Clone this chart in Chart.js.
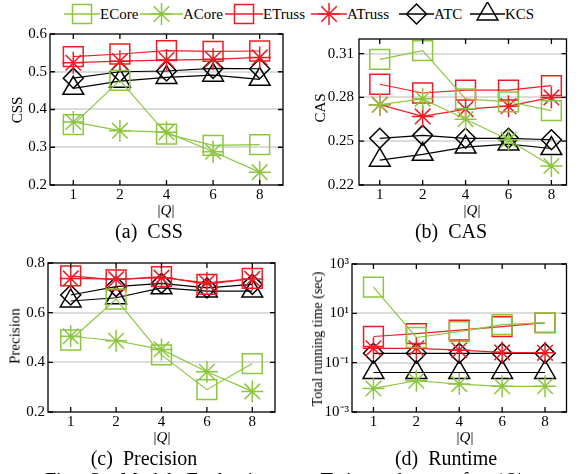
<!DOCTYPE html>
<html lang="en">
<head>
<meta charset="UTF-8">
<title>Model Evaluation</title>
<script src="https://cdn.jsdelivr.net/npm/chart.js@4.4.1/dist/chart.umd.min.js"></script>
<style>
  body { margin: 0; width: 582px; height: 474px; overflow: hidden; background: #fff; position: relative;
         font-family: "Liberation Serif", "Times New Roman", serif; color: #000; }
  canvas.panel { position: absolute; left: 0; top: 0; }
  .t { position: absolute; white-space: pre; line-height: 1; transform: translate(-50%, -50%); }
  .rot { transform: translate(-50%, -50%) rotate(-90deg); }
  .leg { position: absolute; top: 2px; height: 24px; }
  .legtxt { position: absolute; top: 14px; font-size: 15px; line-height: 1; transform: translateY(-50%); white-space: pre; }
</style>
</head>
<body>
<!-- legend -->
<div id="legend"></div>

<canvas id="cssChart" class="panel" width="582" height="474"></canvas>
<canvas id="casChart" class="panel" width="582" height="474"></canvas>
<canvas id="precChart" class="panel" width="582" height="474"></canvas>
<canvas id="rtChart" class="panel" width="582" height="474"></canvas>

<!-- axis titles -->
<div class="t rot" style="left:17px;top:110px;font-size:15px;">CSS</div>
<div class="t rot" style="left:320px;top:108px;font-size:15px;">CAS</div>
<div class="t rot" style="left:15px;top:336px;font-size:15px;">Precision</div>
<div class="t rot" style="left:318px;top:339px;font-size:14px;">Total running time (sec)</div>

<div class="t" style="left:166px;top:210px;font-size:15px;">|<i>Q</i>|</div>
<div class="t" style="left:472px;top:210px;font-size:15px;">|<i>Q</i>|</div>
<div class="t" style="left:162px;top:437px;font-size:15px;">|<i>Q</i>|</div>
<div class="t" style="left:465px;top:437px;font-size:15px;">|<i>Q</i>|</div>

<!-- sub captions -->
<div class="t" style="left:149px;top:231px;font-size:20px;">(a)  CSS</div>
<div class="t" style="left:451px;top:231px;font-size:20px;">(b)  CAS</div>
<div class="t" style="left:144px;top:458px;font-size:20px;">(c)  Precision</div>
<div class="t" style="left:446px;top:458px;font-size:20px;">(d)  Runtime</div>

<div style="position:absolute;left:45px;top:470px;font-size:20px;line-height:1;white-space:nowrap;word-spacing:9px;">Fig. 3: Model Evaluation on Twitter dataset for |<i>Q</i>|</div>

<script>
const qLabels = ['1', '2', '4', '6', '8'];

// (a) CSS
const cssECore  = [0.360, 0.477, 0.335, 0.305, 0.307];
const cssACore  = [0.367, 0.344, 0.340, 0.288, 0.234];
const cssETruss = [0.540, 0.547, 0.556, 0.554, 0.555];
const cssATruss = [0.524, 0.528, 0.531, 0.533, 0.538];
const cssATC    = [0.483, 0.500, 0.502, 0.509, 0.508];
const cssKCS    = [0.456, 0.475, 0.485, 0.491, 0.480];
const cssTicks  = [0.2, 0.3, 0.4, 0.5, 0.6];

// (b) CAS
const casECore  = [0.306, 0.312, 0.279, 0.277, 0.271];
const casACore  = [0.275, 0.279, 0.265, 0.251, 0.233];
const casETruss = [0.289, 0.283, 0.285, 0.285, 0.288];
const casATruss = [0.275, 0.267, 0.272, 0.274, 0.280];
const casATC    = [0.252, 0.254, 0.252, 0.252, 0.251];
const casKCS    = [0.237, 0.241, 0.246, 0.248, 0.245];
const casTicks  = [0.22, 0.25, 0.28, 0.31];

// (c) Precision
const precECore  = [0.490, 0.655, 0.430, 0.290, 0.395];
const precACore  = [0.505, 0.487, 0.452, 0.362, 0.283];
const precETruss = [0.748, 0.732, 0.745, 0.714, 0.738];
const precATruss = [0.738, 0.735, 0.741, 0.720, 0.736];
const precATC    = [0.671, 0.705, 0.718, 0.700, 0.714];
const precKCS    = [0.647, 0.660, 0.700, 0.687, 0.687];
const precTicks  = [0.2, 0.4, 0.6, 0.8];

// (d) Runtime (sec, log scale)
const rtECore  = [115, 1.05, 1.8, 3.5, 4.2];
const rtACore  = [0.009, 0.0185, 0.0135, 0.011, 0.011];
const rtETruss = [1.15, 1.5, 2.1, 2.9, 4.2];
const rtATruss = [0.38, 0.38, 0.32, 0.26, 0.25];
const rtATC    = [0.24, 0.24, 0.24, 0.24, 0.24];
const rtKCS    = [0.04, 0.04, 0.04, 0.04, 0.04];
const rtTicks  = [1e-3, 1e-1, 1e1, 1e3];
const rtTickText = ['10\u207B\u00B3', '10\u207B\u00B9', '10\u00B9', '10\u00B3'];

const GREEN = '#8cc63f';
const RED = '#ee1d25';
const BLACK = '#000';
const FONT = { family: 'Liberation Serif', size: 15 };

const methods = [
    { name: 'ECore',  color: GREEN, style: 'rect',     r: 14 },
    { name: 'ACore',  color: GREEN, style: 'star',     r: 11 },
    { name: 'ETruss', color: RED,   style: 'rect',     r: 14 },
    { name: 'ATruss', color: RED,   style: 'star',     r: 11 },
    { name: 'ATC',    color: BLACK, style: 'rectRot',  r: 10 },
    { name: 'KCS',    color: BLACK, style: 'triangle', r: 12 }
];

// box + inward ticks on all four sides
const framePlugin = {
    id: 'frame',
    afterDatasetsDraw(chart) {
        const { ctx, chartArea: a, scales: { x, y } } = chart;
        ctx.save();
        ctx.strokeStyle = '#000';
        ctx.lineWidth = 1.3;
        ctx.strokeRect(a.left, a.top, a.right - a.left, a.bottom - a.top);
        ctx.beginPath();
        x.ticks.forEach(t => {
            const px = x.getPixelForValue(t.value);
            ctx.moveTo(px, a.bottom); ctx.lineTo(px, a.bottom - 5);
            ctx.moveTo(px, a.top); ctx.lineTo(px, a.top + 5);
        });
        y.ticks.forEach(t => {
            const py = y.getPixelForValue(t.value);
            ctx.moveTo(a.left, py); ctx.lineTo(a.left + 5, py);
            ctx.moveTo(a.right, py); ctx.lineTo(a.right - 5, py);
        });
        ctx.stroke();
        ctx.restore();
    }
};

function makePanel(id, area, seriesList, yOpt, xRange) {
    const yW = area.yW, xH = 30;
    const datasets = seriesList.map((vals, i) => {
        const m = methods[i];
        return {
            label: m.name,
            data: vals.map((v, k) => ({ x: k, y: v })),
            borderColor: m.color,
            borderWidth: 1.2,
            pointStyle: m.style,
            pointRadius: m.r,
            pointBorderColor: m.color,
            pointBackgroundColor: 'rgba(0,0,0,0)',
            pointBorderWidth: 1.5,
            tension: 0,
            clip: false
        };
    });
    return new Chart(document.getElementById(id), {
        type: 'line',
        data: { datasets },
        plugins: [framePlugin],
        options: {
            responsive: false,
            animation: false,
            events: [],
            layout: {
                padding: {
                    left: area.left - yW,
                    right: 582 - area.right,
                    top: area.top,
                    bottom: 474 - area.bottom - xH
                }
            },
            plugins: { legend: { display: false }, tooltip: { enabled: false } },
            scales: {
                x: {
                    type: 'linear',
                    min: xRange[0],
                    max: xRange[1],
                    afterBuildTicks: s => { s.ticks = qLabels.map((_, k) => ({ value: k })); },
                    afterFit: s => { s.height = xH; },
                    ticks: { callback: v => qLabels[v], font: FONT, color: '#000', padding: 1, maxRotation: 0, autoSkip: false },
                    grid: { display: false, drawTicks: false },
                    border: { display: false }
                },
                y: {
                    type: yOpt.type,
                    min: yOpt.min,
                    max: yOpt.max,
                    afterBuildTicks: s => { s.ticks = yOpt.ticks.map(v => ({ value: v })); },
                    afterFit: s => { s.width = yW; },
                    ticks: { callback: yOpt.fmt, font: FONT, color: '#000', padding: yOpt.pad, autoSkip: false },
                    grid: {
                        drawTicks: false,
                        lineWidth: 2,
                        color: c => (c.tick && c.tick.value > yOpt.min && c.tick.value < yOpt.max) ? '#dcdcdc' : 'rgba(0,0,0,0)'
                    },
                    border: { display: false }
                }
            }
        }
    });
}

makePanel('cssChart', { left: 50, right: 283, top: 34, bottom: 185, yW: 45 },
    [cssECore, cssACore, cssETruss, cssATruss, cssATC, cssKCS],
    { type: 'linear', min: 0.2, max: 0.6, ticks: cssTicks, fmt: v => v.toFixed(1), pad: 3 },
    [-0.5, 4.5]);

makePanel('casChart', { left: 359, right: 579, top: 39, bottom: 185, yW: 40 },
    [casECore, casACore, casETruss, casATruss, casATC, casKCS],
    { type: 'linear', min: 0.22, max: 0.32, ticks: casTicks, fmt: v => v.toFixed(2), pad: 5 },
    [-0.484, 4.352]);

makePanel('precChart', { left: 48, right: 275, top: 263, bottom: 412, yW: 45 },
    [precECore, precACore, precETruss, precATruss, precATC, precKCS],
    { type: 'linear', min: 0.2, max: 0.8, ticks: precTicks, fmt: v => v.toFixed(1), pad: 3 },
    [-0.5, 4.5]);

makePanel('rtChart', { left: 352, right: 578, top: 264, bottom: 412, yW: 40 },
    [rtECore, rtACore, rtETruss, rtATruss, rtATC, rtKCS],
    { type: 'logarithmic', min: 1e-3, max: 1e3, ticks: rtTicks, fmt: v => rtTickText[rtTicks.indexOf(v)] || '', pad: 3 },
    [-0.5, 4.5]);

// legend: line through marker, then label
const legendPos = [
    { line: 64,  w: 36, text: 100 },
    { line: 140, w: 43, text: 183 },
    { line: 225, w: 38, text: 263 },
    { line: 311, w: 36, text: 347 },
    { line: 399, w: 35, text: 434 },
    { line: 470, w: 35, text: 505 }
];

function markerSvg(m, cx, cy) {
    const c = m.color;
    if (m.style === 'rect') {
        return `<rect x="${cx - 9.5}" y="${cy - 9.5}" width="19" height="19" fill="none" stroke="${c}" stroke-width="1.5"/>`;
    }
    if (m.style === 'star') {
        const r = 11, d = r * Math.SQRT1_2;
        return `<path d="M${cx - r} ${cy}H${cx + r}M${cx} ${cy - r}V${cy + r}M${cx - d} ${cy - d}L${cx + d} ${cy + d}M${cx - d} ${cy + d}L${cx + d} ${cy - d}" stroke="${c}" stroke-width="1.5"/>`;
    }
    if (m.style === 'rectRot') {
        const r = 10;
        return `<path d="M${cx - r} ${cy}L${cx} ${cy - r}L${cx + r} ${cy}L${cx} ${cy + r}Z" fill="none" stroke="${c}" stroke-width="1.5"/>`;
    }
    const r = 12;
    return `<path d="M${cx} ${cy - r}L${cx + r * 0.866} ${cy + r / 2}L${cx - r * 0.866} ${cy + r / 2}Z" fill="none" stroke="${c}" stroke-width="1.5"/>`;
}

const legend = document.getElementById('legend');
methods.forEach((m, i) => {
    const p = legendPos[i];
    const cx = p.w / 2, cy = 12;
    legend.insertAdjacentHTML('beforeend',
        `<svg class="leg" style="left:${p.line}px" width="${p.w}" height="24" viewBox="0 0 ${p.w} 24">` +
        `<line x1="0" y1="${cy}" x2="${p.w}" y2="${cy}" stroke="${m.color}" stroke-width="1.3"/>` +
        markerSvg(m, cx, cy) + `</svg>` +
        `<div class="legtxt" style="left:${p.text}px">${m.name}</div>`);
});
</script>
</body>
</html>
